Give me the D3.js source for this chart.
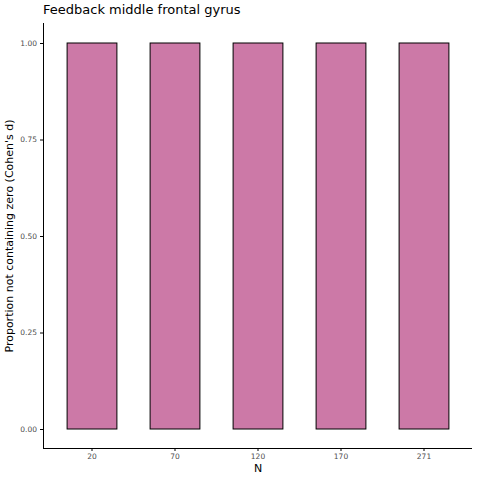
<!DOCTYPE html>
<html><head><meta charset="utf-8">
<script src="https://cdn.jsdelivr.net/npm/d3@7"></script>
<style>body{margin:0;background:#fff}</style></head>
<body><svg id="c" width="480" height="480"></svg>
<script>
const categories=["20","70","120","170","271"];
const values=[1,1,1,1,1];
const yTicks=[0,0.25,0.5,0.75,1];
const svg=d3.select("#c");
const x=d3.scaleBand().domain(categories).range([50.5,465.5]).paddingInner(0.4).paddingOuter(0.2);
const y=d3.scaleLinear().domain([0,1]).range([429,43]);
svg.append("g").selectAll("rect").data(categories).join("rect")
 .attr("x",d=>x(d)).attr("width",x.bandwidth())
 .attr("y",(d,i)=>y(values[i])).attr("height",(d,i)=>y(0)-y(values[i]))
 .attr("fill","#cc79a7").attr("stroke","#000").attr("stroke-width",1);
const xa=svg.append("g").attr("transform","translate(0,448)")
 .call(d3.axisBottom(x).tickSize(3).tickSizeOuter(0));
xa.select(".domain").attr("d","M43,0.5H472");
const ya=svg.append("g").attr("transform","translate(43,0)")
 .call(d3.axisLeft(y).tickValues(yTicks).tickFormat(d3.format(".2f")).tickSize(3).tickSizeOuter(0));
ya.select(".domain").attr("d","M0.5,23V448");
svg.selectAll(".tick text").attr("font-family","DejaVu Sans").attr("font-size",7.5).attr("fill","#4d4d4d");
svg.append("text").attr("x",258).attr("y",472).attr("text-anchor","middle")
 .attr("font-family","DejaVu Sans").attr("font-size",11).text("N");
svg.append("text").attr("transform","translate(13,236) rotate(-90)").attr("text-anchor","middle")
 .attr("font-family","DejaVu Sans").attr("font-size",11).text("Proportion not containing zero (Cohen's d)");
svg.append("text").attr("x",43).attr("y",14).attr("font-family","DejaVu Sans").attr("font-size",13)
 .text("Feedback middle frontal gyrus");
</script></body></html>
